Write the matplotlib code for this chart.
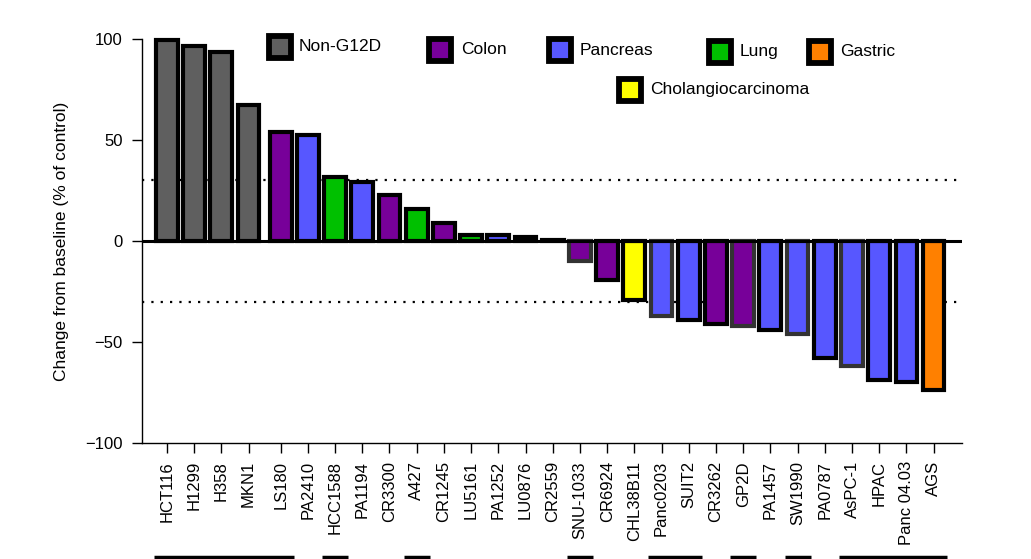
import numpy as np
import matplotlib
matplotlib.use('Agg')
import matplotlib.pyplot as plt
import matplotlib.transforms as mtransforms

plt.rcParams['font.family'] = ['Liberation Sans', 'DejaVu Sans']

# cell lines, response and tumour type
cell_lines = ['HCT116', 'H1299', 'H358', 'MKN1', 'LS180', 'PA2410', 'HCC1588',
              'PA1194', 'CR3300', 'A427', 'CR1245', 'LU5161', 'PA1252', 'LU0876',
              'CR2559', 'SNU-1033', 'CR6924', 'CHL38B11', 'Panc0203', 'SUIT2',
              'CR3262', 'GP2D', 'PA1457', 'SW1990', 'PA0787', 'AsPC-1', 'HPAC',
              'Panc 04.03', 'AGS']
change = [99.5, 96.5, 93.5, 67.5, 54, 52.5, 31.5, 29, 23, 16, 9, 3, 3, 2, 0.5,
          -10, -19.5, -29, -37, -39, -41, -42, -44, -46, -58, -62, -69, -70, -74]
tissue = ['Non-G12D', 'Non-G12D', 'Non-G12D', 'Non-G12D', 'Colon', 'Pancreas',
          'Lung', 'Pancreas', 'Colon', 'Lung', 'Colon', 'Lung', 'Pancreas', 'Lung',
          'Colon', 'Colon', 'Colon', 'Cholangiocarcinoma', 'Pancreas', 'Pancreas',
          'Colon', 'Colon', 'Pancreas', 'Pancreas', 'Pancreas', 'Pancreas',
          'Pancreas', 'Pancreas', 'Gastric']
grey_edge = ['SNU-1033', 'Panc0203', 'GP2D', 'SW1990', 'AsPC-1']
# lines drawn under the labels (first, last cell line)
underlined = [('HCT116', 'LS180'), ('HCC1588', 'HCC1588'), ('A427', 'A427'),
              ('SNU-1033', 'SNU-1033'), ('Panc0203', 'SUIT2'), ('GP2D', 'GP2D'),
              ('SW1990', 'SW1990'), ('AsPC-1', 'AGS')]

colors = {'Non-G12D': '#5f5f5f', 'Colon': '#770099', 'Pancreas': '#5757ff',
          'Lung': '#00c000', 'Gastric': '#ff8000', 'Cholangiocarcinoma': '#ffff00'}

n = len(cell_lines)
idx = np.arange(n)
x = idx + 0.18 * (idx >= 4)
pos = dict(zip(cell_lines, x))

fig = plt.figure(figsize=(10.31, 5.59), dpi=100)
ax = fig.add_axes([0.1377, 0.2075, 0.795, 0.7227])

edges = ['#333333' if c in grey_edge else 'black' for c in cell_lines]
ax.bar(x, change, width=0.8, color=[colors[t] for t in tissue],
       edgecolor=edges, linewidth=3, clip_on=False, zorder=3)

ax.axhline(0, color='black', lw=2.2, zorder=4)
for yv in (30, -30):
    ax.axhline(yv, color='black', lw=1.6, linestyle=(0, (1, 3.2)), zorder=2)

ax.set_xlim(-0.918, 29.21)
ax.set_ylim(-100, 100)
ax.set_yticks([-100, -50, 0, 50, 100])
ax.set_yticklabels(['\u2212100', '\u221250', '0', '50', '100'])
ax.set_xticks(x)
ax.set_xticklabels(cell_lines, rotation=90)
ax.tick_params(axis='both', labelsize=12, length=7, width=1, direction='out')
ax.tick_params(axis='x', pad=6)
ax.tick_params(axis='y', pad=7)
for s in ('top', 'right'):
    ax.spines[s].set_visible(False)
ax.spines['left'].set_linewidth(1)
ax.spines['bottom'].set_linewidth(1)
ax.set_ylabel('Change from baseline (% of control)', fontsize=12.5)
ax.yaxis.set_label_coords(-0.089, 0.5)

# underline bars below labels
trans = mtransforms.blended_transform_factory(ax.transData, ax.transAxes)
for a, b in underlined:
    ax.plot([pos[a] - 0.48, pos[b] + 0.48], [-0.283, -0.283], color='black',
            lw=2.5, transform=trans, clip_on=False, solid_capstyle='butt')

# legend
legend_items = [('Non-G12D', 0.168, 0.981, 0.191),
                ('Colon', 0.364, 0.973, 0.389),
                ('Pancreas', 0.510, 0.972, 0.534),
                ('Lung', 0.705, 0.969, 0.729),
                ('Gastric', 0.827, 0.968, 0.852),
                ('Cholangiocarcinoma', 0.596, 0.875, 0.620)]
for name, mx, my, tx in legend_items:
    ax.plot(mx, my, marker='s', ms=15.5, mfc=colors[name], mec='black', mew=4.2,
            transform=ax.transAxes, clip_on=False, zorder=5)
    ax.text(tx, my, name, transform=ax.transAxes, fontsize=12.5, va='center',
            ha='left')

fig.savefig('out.png', dpi=100)
